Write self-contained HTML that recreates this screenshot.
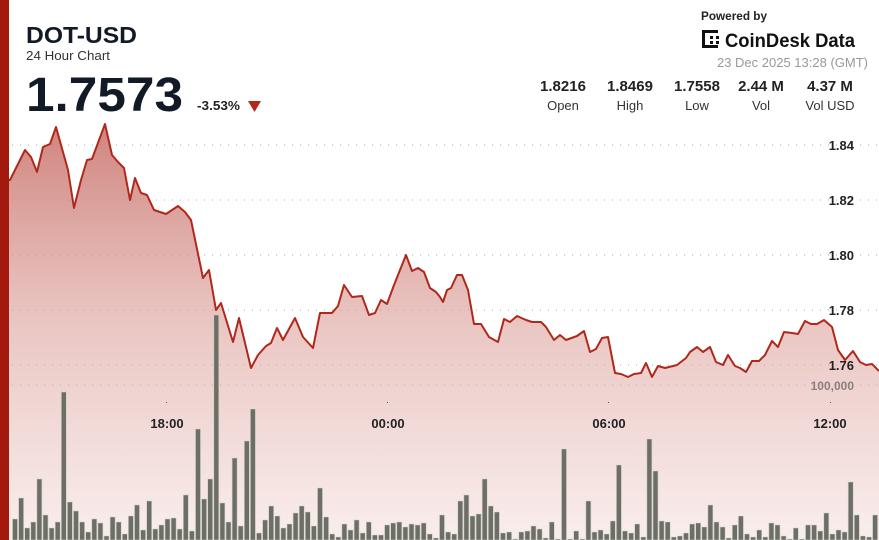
<!DOCTYPE html>
<html><head><meta charset="utf-8">
<style>
html,body{margin:0;padding:0;width:879px;height:540px;overflow:hidden;background:#fff;font-family:"Liberation Sans",sans-serif;}
svg{display:block}
</style></head><body>
<svg id="s" width="879" height="540" viewBox="0 0 879 540" xmlns="http://www.w3.org/2000/svg">
<defs>
<linearGradient id="af" x1="0" y1="120" x2="0" y2="540" gradientUnits="userSpaceOnUse">
<stop offset="0" stop-color="#c4625a" stop-opacity="0.8"/>
<stop offset="0.5" stop-color="#d99a94" stop-opacity="0.55"/>
<stop offset="1" stop-color="#f3dcd9" stop-opacity="0.5"/>
</linearGradient>
</defs>
<g id="grid" stroke="#aaa" stroke-width="1" stroke-dasharray="1 7"></g>
<path id="area" fill="url(#af)"/>
<g id="bars"></g>
<path id="line" fill="none" stroke="#b0281c" stroke-width="2" stroke-linejoin="round"/>
<rect x="0" y="0" width="9" height="540" fill="#a3190d"/>
<g font-family="Liberation Sans, sans-serif" font-weight="bold" font-size="13" fill="#222" text-anchor="end">
<text x="854" y="150">1.84</text><text x="854" y="205">1.82</text><text x="854" y="260">1.80</text><text x="854" y="315">1.78</text><text x="854" y="370">1.76</text>
<text x="854" y="390" fill="#8a8080" font-size="12">100,000</text>
</g>
<g font-family="Liberation Sans, sans-serif" font-weight="bold" font-size="13" fill="#222" text-anchor="middle">
<text x="167" y="428">18:00</text><text x="388" y="428">00:00</text><text x="609" y="428">06:00</text><text x="830" y="428">12:00</text>
</g>
<g fill="#555"><rect x="166" y="402" width="1" height="1"/><rect x="387" y="402" width="1" height="1"/><rect x="608" y="402" width="1" height="1"/><rect x="830" y="402" width="1" height="1"/></g>
<text x="26" y="43" font-size="23" font-weight="bold" fill="#111a26" textLength="111" lengthAdjust="spacingAndGlyphs">DOT-USD</text>
<text x="26" y="60" font-size="13" fill="#333" textLength="84" lengthAdjust="spacingAndGlyphs">24 Hour Chart</text>
<text x="26" y="111" font-size="48" font-weight="bold" fill="#111a26" textLength="157" lengthAdjust="spacingAndGlyphs">1.7573</text>
<text x="197" y="110" font-size="13" font-weight="bold" fill="#222" textLength="43" lengthAdjust="spacingAndGlyphs">-3.53%</text>
<polygon points="248,101 261,101 254.5,112" fill="#b0281c"/>
<text x="701" y="20" font-size="12" font-weight="bold" fill="#222" textLength="66" lengthAdjust="spacingAndGlyphs">Powered by</text>
<g fill="#111">
<rect x="702" y="30" width="3" height="18"/><rect x="702" y="30" width="16" height="3"/><rect x="702" y="45" width="16" height="3"/>
<rect x="710" y="36" width="3" height="3"/><rect x="716" y="36" width="3" height="3"/><rect x="710" y="41" width="3" height="3"/><rect x="716" y="41" width="3" height="3"/>
</g>
<text x="725" y="47" font-size="19" font-weight="bold" fill="#111" textLength="130" lengthAdjust="spacingAndGlyphs">CoinDesk Data</text>
<text x="868" y="67" font-size="13" fill="#999" text-anchor="end">23 Dec 2025 13:28 (GMT)</text>
<g text-anchor="middle" fill="#222">
<g font-size="15" font-weight="bold"><text x="563" y="91">1.8216</text><text x="630" y="91">1.8469</text><text x="697" y="91">1.7558</text><text x="761" y="91">2.44 M</text><text x="830" y="91">4.37 M</text></g>
<g font-size="13" fill="#333"><text x="563" y="110">Open</text><text x="630" y="110">High</text><text x="697" y="110">Low</text><text x="761" y="110">Vol</text><text x="830" y="110">Vol USD</text></g>
</g>
</svg>
<script>
var NS="http://www.w3.org/2000/svg";
var grid=document.getElementById('grid');
[145,200,255,310,365,385].forEach(function(y){var l=document.createElementNS(NS,'line');l.setAttribute('x1',12);l.setAttribute('x2',879);l.setAttribute('y1',y);l.setAttribute('y2',y);grid.appendChild(l);});
var pts=[[9,180],[10,180],[25,150],[31,157],[37,172],[43,147],[50,144],[56,127],[68,170],[74,208],[81,180],[87,160],[92,159],[105,124],[112,155],[118,162],[124,168],[130,200],[135,178],[141,193],[147,195],[154,210],[166,214],[178,206],[185,212],[191,220],[203,278],[209,270],[216,310],[221,303],[233,342],[239,318],[251,368],[258,355],[266,346],[271,343],[277,328],[283,340],[295,318],[303,337],[313,348],[320,313],[332,313],[338,306],[344,285],[352,297],[362,296],[369,315],[375,313],[381,300],[387,304],[394,285],[400,270],[406,255],[412,271],[418,268],[424,272],[430,288],[436,292],[440,297],[443,302],[447,290],[451,288],[457,275],[462,275],[468,290],[474,324],[481,324],[489,337],[498,342],[504,319],[510,322],[517,316],[526,320],[532,322],[541,322],[546,327],[554,340],[560,335],[566,340],[577,336],[584,331],[590,352],[596,349],[602,338],[608,337],[615,373],[621,374],[628,377],[634,374],[641,373],[646,363],[652,377],[658,366],[665,368],[677,365],[686,358],[690,352],[697,347],[703,352],[710,347],[716,362],[723,365],[728,355],[735,366],[740,368],[746,372],[752,361],[759,361],[765,355],[772,341],[778,347],[784,332],[792,333],[798,334],[805,321],[811,324],[817,324],[824,320],[832,327],[838,350],[845,360],[853,351],[860,362],[866,365],[872,364],[879,371]];
var d=pts.map(function(p,i){return (i?'L':'M')+p[0]+','+p[1];}).join('');
document.getElementById('line').setAttribute('d',d);
document.getElementById('area').setAttribute('d',d+'L879,540L9,540Z');
var tops=[519,498,528,522,479,515,528,522,392,502,511,522,532,519,523,536,517,522,534,516,505,530,501,529,525,519,518,529,495,531,429,499,479,315,503,522,458,526,441,409,533,520,506,516,528,524,513,506,512,526,488,517,534,537,524,530,520,533,522,535,535,525,523,522,527,524,525,523,534,538,515,532,534,501,495,516,514,479,506,512,533,532,539,532,531,526,529,538,522,539,449,539,531,539,501,532,530,534,521,465,531,533,524,537,439,471,521,522,537,536,533,524,523,527,505,522,527,538,525,516,534,537,530,537,523,525,536,539,528,539,525,525,531,513,534,530,532,482,515,536,537,515];
var bd='';
tops.forEach(function(t,i){var x=15+6.1*i-2.5;bd+='M'+x.toFixed(1)+',540V'+t+'h5V540Z';});
var bp=document.createElementNS(NS,'path');bp.setAttribute('d',bd);bp.setAttribute('fill','#6e6e66');bp.setAttribute('stroke','#c9d2c4');bp.setAttribute('stroke-width','0.6');
document.getElementById('bars').appendChild(bp);
</script>
</body></html>
